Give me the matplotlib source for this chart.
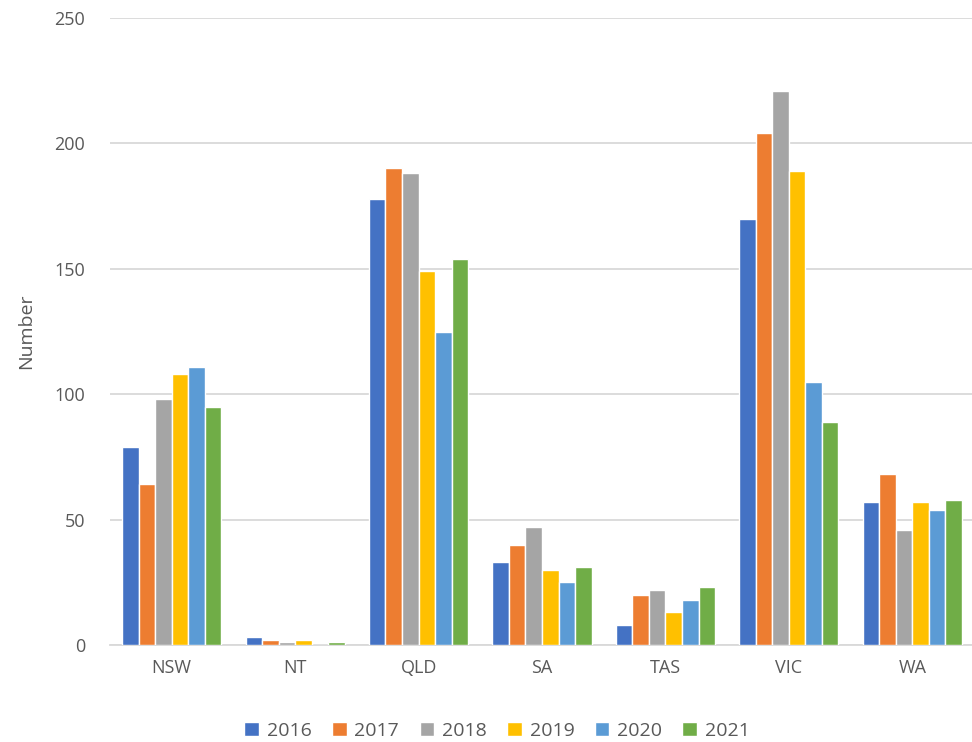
import numpy as np
import matplotlib.pyplot as plt

states = ['NSW', 'NT', 'QLD', 'SA', 'TAS', 'VIC', 'WA']
years = ['2016', '2017', '2018', '2019', '2020', '2021']
v2016 = [79, 3, 178, 33, 8, 170, 57]
v2017 = [64, 2, 190, 40, 20, 204, 68]
v2018 = [98, 1, 188, 47, 22, 221, 46]
v2019 = [108, 2, 149, 30, 13, 189, 57]
v2020 = [111, 0, 125, 25, 18, 105, 54]
v2021 = [95, 1, 154, 31, 23, 89, 58]
series = [v2016, v2017, v2018, v2019, v2020, v2021]
colors = ['#4472C4', '#ED7D31', '#A5A5A5', '#FFC000', '#5B9BD5', '#70AD47']

plt.rcParams['font.family'] = ['Open Sans', 'DejaVu Sans']
txt = '#595959'

fig = plt.figure(figsize=(9.72, 7.42), dpi=100)
ax = fig.add_axes([110 / 972, 1 - 645 / 742, 864 / 972, 627 / 742])

x = np.arange(len(states))
w = 0.134
for i, (vals, c, y) in enumerate(zip(series, colors, years)):
    ax.bar(x + (i - 2.5) * w, vals, w, color=c, edgecolor='white', linewidth=1, label=y, zorder=3)

ax.set_xlim(-0.5, len(states) - 0.5)
ax.set_ylim(0, 250)
ax.set_yticks(range(0, 251, 50))
ax.set_xticks(x)
ax.set_xticklabels(states)
ax.yaxis.grid(True, color='#d9d9d9', linewidth=1.3, zorder=0)
for s in ['top', 'right', 'left']:
    ax.spines[s].set_visible(False)
ax.spines['bottom'].set_color('#d9d9d9')
ax.spines['bottom'].set_linewidth(1.3)
ax.tick_params(axis='both', length=0, colors=txt, labelsize=13)
ax.tick_params(axis='y', pad=18)
ax.tick_params(axis='x', pad=10)
ax.set_ylabel('Number', color=txt, fontsize=14, labelpad=14)

ax.legend(loc='upper center', bbox_to_anchor=(0.448, -0.095), ncol=6, frameon=False,
          fontsize=14, handlelength=0.75, handleheight=0.75, handletextpad=0.4,
          columnspacing=1.05, labelcolor=txt)

fig.savefig('out.png', dpi=100)
